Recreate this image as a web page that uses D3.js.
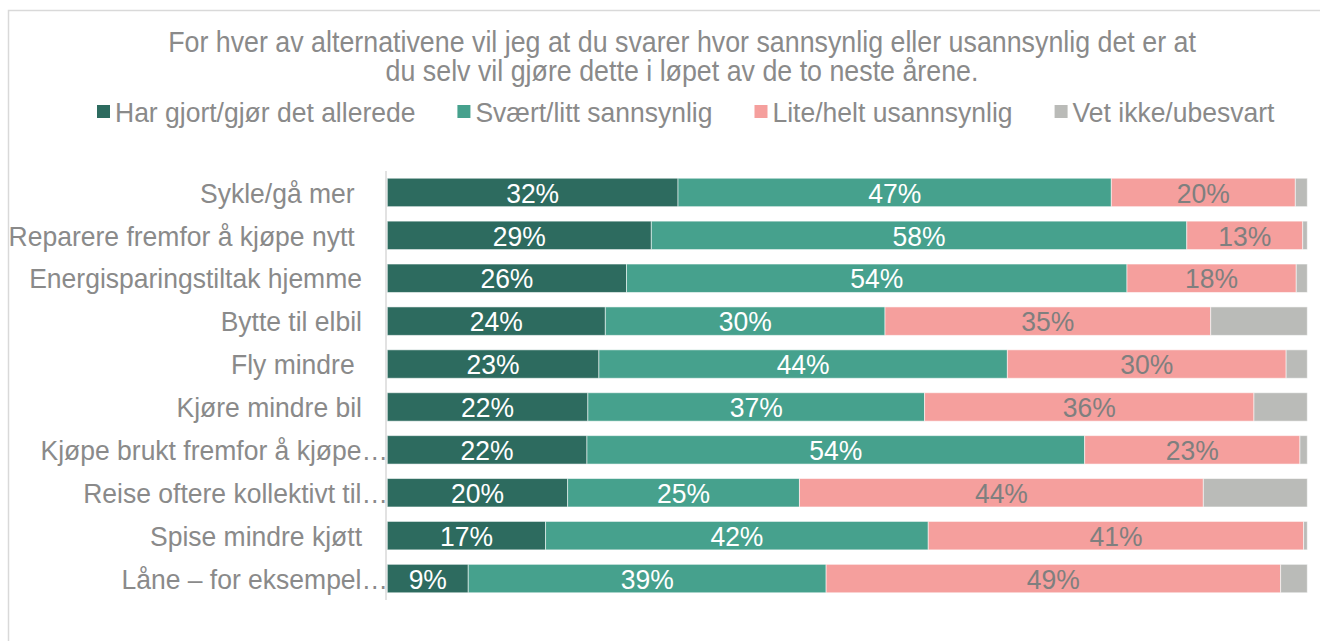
<!DOCTYPE html>
<html>
<head>
<meta charset="utf-8">
<script src="https://cdn.jsdelivr.net/npm/d3@7"></script>
<style>
  html, body { margin: 0; padding: 0; background: #fff; }
  svg { display: block; }
  text { font-family: "Liberation Sans", Arial, sans-serif; white-space: pre; }
</style>
</head>
<body>
<svg id="chart" width="1320" height="641"></svg>
<script>
// ---- data ----
const titleLines = [
  "For hver av alternativene vil jeg at du svarer hvor sannsynlig eller usannsynlig det er at",
  "du selv vil gjøre dette i løpet av de to neste årene."
];
const seriesNames = ["Har gjort/gjør det allerede", "Svært/litt sannsynlig", "Lite/helt usannsynlig", "Vet ikke/ubesvart"];
const categories = [
  "Sykle/gå mer ",
  "Reparere fremfor å kjøpe nytt ",
  "Energisparingstiltak hjemme",
  "Bytte til elbil",
  "Fly mindre ",
  "Kjøre mindre bil",
  "Kjøpe brukt fremfor å kjøpe…",
  "Reise oftere kollektivt til…",
  "Spise mindre kjøtt",
  "Låne – for eksempel…"
];
const hasDone  = [31.6, 28.7, 26.0, 23.7, 23.0, 21.8, 21.7, 19.6, 17.2, 8.8];
const likely   = [47.1, 58.2, 54.4, 30.4, 44.4, 36.6, 54.1, 25.2, 41.6, 38.9];
const unlikely = [20.0, 12.6, 18.4, 35.4, 30.3, 35.8, 23.4, 43.9, 40.8, 49.4];
const dontKnow = [1.3, 0.5, 1.2, 10.5, 2.3, 5.8, 0.8, 11.3, 0.4, 2.9];

const colors = ["#2d6b5f", "#46a18d", "#f59f9d", "#babbb8"];
const labelColors = ["#ffffff", "#ffffff", "#7f7f7f", null];

// ---- layout ----
const svg = d3.select("#chart");
const FONT = 26.5;
const SY = 1.07; // slight vertical stretch of glyphs as in reference
const textGray = "#8a8a8a";
const tf = (tx, ty) => `translate(${tx},${ty}) scale(1,${SY})`;

// frame
svg.append("rect").attr("x", 8.5).attr("y", 10.5).attr("width", 1400).attr("height", 700)
  .attr("fill", "#fff").attr("stroke", "#d9d9d9").attr("stroke-width", 1.5);

// title
svg.append("g").selectAll("text").data(titleLines).join("text")
  .attr("transform", (d, i) => tf(682, 42 + i * 29)).attr("dy", "0.35em")
  .attr("text-anchor", "middle").attr("font-size", FONT + 0.3).attr("fill", textGray)
  .text(d => d);

// scales
const x = d3.scaleLinear().domain([0, 100]).range([387.3, 1307.3]);
const y = d3.scaleBand().domain(categories).range([171, 600]).paddingInner(0.337).paddingOuter(0.1685);

const rows = categories.map((c, i) => ({ cat: c, vals: [hasDone[i], likely[i], unlikely[i], dontKnow[i]] }));
const stack = d3.stack().keys([0, 1, 2, 3]).value((d, k) => d.vals[k]);
const stacked = stack(rows);

const g = svg.append("g");
stacked.forEach((layer, k) => {
  g.append("g").selectAll("rect").data(layer).join("rect")
    .attr("x", d => x(d[0])).attr("y", d => y(d.data.cat))
    .attr("width", d => Math.max(0, x(d[1]) - x(d[0])))
    .attr("height", y.bandwidth())
    .attr("fill", colors[k])
    .attr("stroke", "rgba(255,255,255,0.55)").attr("stroke-width", 1);
  if (labelColors[k]) {
    g.append("g").selectAll("text").data(layer).join("text")
      .attr("transform", d => tf((x(d[0]) + x(d[1])) / 2, y(d.data.cat) + y.bandwidth() / 2))
      .attr("dy", "0.36em")
      .attr("text-anchor", "middle").attr("font-size", FONT).attr("fill", labelColors[k])
      .text(d => Math.round(d[1] - d[0]) + "%");
  }
});

// axis line
svg.append("line").attr("x1", 386).attr("x2", 386).attr("y1", 171).attr("y2", 600)
  .attr("stroke", "#d9d9d9").attr("stroke-width", 1.5);

// category labels
svg.append("g").selectAll("text").data(categories).join("text")
  .attr("transform", d => tf(d.endsWith("…") ? 388 : 362, y(d) + y.bandwidth() / 2))
  .attr("dy", "0.36em")
  .attr("text-anchor", "end").attr("font-size", FONT).attr("fill", textGray)
  .text(d => d);

// legend
const legend = svg.append("g");
let lx = 97;
seriesNames.forEach((name, k) => {
  legend.append("rect").attr("x", lx).attr("y", 105).attr("width", 13).attr("height", 13).attr("fill", colors[k]);
  const t = legend.append("text").attr("transform", tf(lx + 18, 112)).attr("dy", "0.36em")
    .attr("font-size", FONT).attr("fill", textGray).text(name);
  lx += 18 + t.node().getComputedTextLength() + 42;
});
</script>
</body>
</html>
